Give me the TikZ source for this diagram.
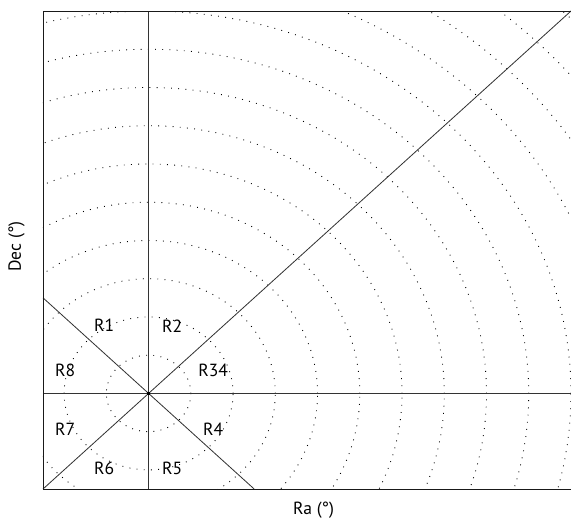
\documentclass[tikz,border=0pt]{standalone}
\usepackage{fontspec}
\setmainfont{PT Sans}
\usepackage{tikz}
\usetikzlibrary{positioning,calc}

\begin{document}
\begin{tikzpicture}[
    x=1.2672cm, y=1.1472cm,
    frame/.style={draw=black!90, line width=0.7pt},
    axis/.style={draw=black!80, line width=0.7pt},
    ring/.style={draw=black, line width=0.75pt, dash pattern=on 0.75pt off 5.4pt},
    region/.style={font=\fontsize{15}{17}\selectfont, inner sep=0pt},
    axlabel/.style={font=\fontsize{15}{17}\selectfont, inner sep=0pt},
    hub/.style={fill=black, rectangle, inner sep=0pt, minimum size=3pt}
]
    \useasboundingbox (-3.518,-3.363) rectangle (10.0,10.288);

    % Corners and centre
    \coordinate (o) at (0,0);
    \coordinate (sw) at (-2.5,-2.5);
    \coordinate (ne) at (10,10);
    \coordinate (nw) at (-2.5,10);
    \coordinate (se) at (10,-2.5);

    % Dotted rings
    \begin{scope}
        \clip (sw) rectangle (ne);
        \foreach \r in {1,...,14}
            \draw[ring] (o) ellipse [x radius=\r*1.2672cm, y radius=\r*1.1472cm];
    \end{scope}

    % Axes through the centre
    \draw[axis] (o |- sw) -- (o |- ne);
    \draw[axis] (sw |- o) -- (ne |- o);
    \draw[axis] (sw) -- (ne);
    \draw[axis] (-2.5,2.5) -- (2.5,-2.5);
    \node[hub] (ctr) at (o) {};

    % Frame
    \draw[frame] (sw) rectangle (ne);

    % Regions
    \node[region] (r1) at (-1.053,1.778) {R1};
    \node[region] (r2) at (0.556,1.75) {R2};
    \node[region] (r8) at (-1.977,0.60) {R8};
    \node[region] (r34) at (1.527,0.60) {R34};
    \node[region] (r7) at (-1.977,-0.94) {R7};
    \node[region] (r4) at (1.527,-0.94) {R4};
    \node[region] (r6) at (-1.053,-1.95) {R6};
    \node[region] (r5) at (0.556,-1.95) {R5};

    % Axis labels
    \node[axlabel] (ra) at (3.906,-3.06) {Ra (°)};
    \node[axlabel, rotate=90] (dec) at (-3.125,3.844) {Dec (°)};
\end{tikzpicture}
\end{document}
